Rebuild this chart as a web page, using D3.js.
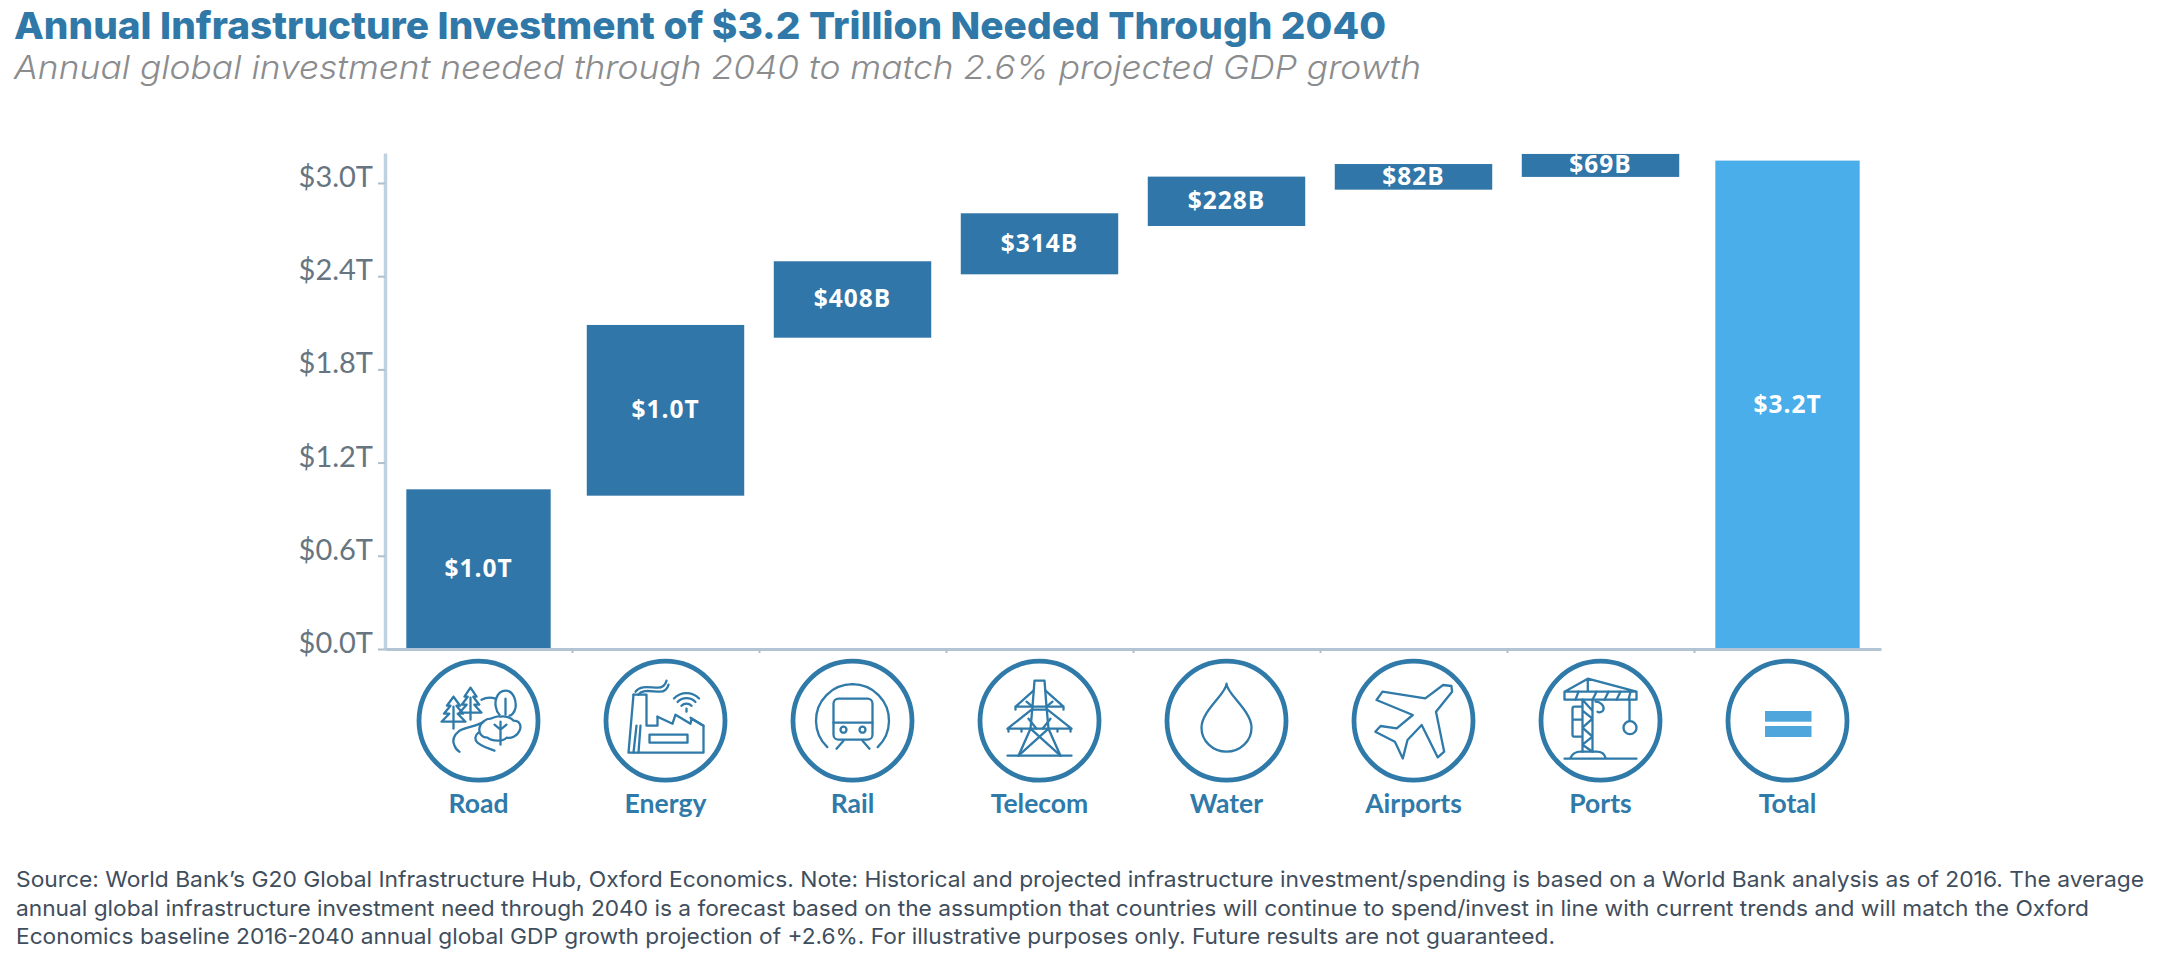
<!DOCTYPE html>
<html><head><meta charset="utf-8">
<script src="https://cdn.jsdelivr.net/npm/d3@7"></script>
<style>
html,body{margin:0;padding:0;background:#fff}
svg{display:block}
.title{font:800 37.5px Inter,sans-serif;fill:#2f78a8}
.subtitle{font:italic 300 33px Inter,sans-serif;fill:#8b8c8e}
.note{font:400 22px Inter,sans-serif;fill:#3f4e5d}
.val{font:700 24.5px "Open Sans",sans-serif;fill:#fff;letter-spacing:1px;text-anchor:middle}
.cat{font:700 26.5px Lato,sans-serif;fill:#2f7aa9;text-anchor:middle}
.yax text{font:400 29px Lato,sans-serif;fill:#66757f}
.yax line,.xax line{stroke:#aebfcd;stroke-width:2}
.yax path{stroke:#bfd2e1;stroke-width:3.5;fill:none}
.xax path{stroke:#b3c5d4;stroke-width:3;fill:none}
.ic{fill:none;stroke:#2f7aa9;stroke-width:2.3;stroke-linecap:round;stroke-linejoin:round}
.ring{fill:none;stroke:#2f7aa9;stroke-width:4.8}
</style></head><body>
<svg id="c" width="2161" height="960" xmlns="http://www.w3.org/2000/svg"></svg>
<script>
// ---- data ----
const categories = ["Road","Energy","Rail","Telecom","Water","Airports","Ports","Total"];
const barStart   = [0, 0.987, 2.004, 2.412, 2.723, 2.957, 3.039, 0];
const barEnd     = [1.028, 2.086, 2.496, 2.805, 3.041, 3.122, 3.187, 3.144];
const valueLabels= ["$1.0T","$1.0T","$408B","$314B","$228B","$82B","$69B","$3.2T"];
const yTicks     = [0, 0.6, 1.2, 1.8, 2.4, 3.0];
const titleText  = "Annual Infrastructure Investment of $3.2 Trillion Needed Through 2040";
const subtitleText = "Annual global investment needed through 2040 to match 2.6% projected GDP growth";
const noteLines  = [
 "Source: World Bank\u2019s G20 Global Infrastructure Hub, Oxford Economics. Note: Historical and projected infrastructure investment/spending is based on a World Bank analysis as of 2016. The average",
 "annual global infrastructure investment need through 2040 is a forecast based on the assumption that countries will continue to spend/invest in line with current trends and will match the Oxford",
 "Economics baseline 2016-2040 annual global GDP growth projection of +2.6%. For illustrative purposes only. Future results are not guaranteed."
];

const svg = d3.select("#c");
const plot = {left:385,right:1881,bottom:649,top:153};

const x = d3.scaleBand().domain(categories).range([plot.left,plot.right]);
const y = d3.scaleLinear().domain([0,3.193]).range([plot.bottom,plot.top]);
const xEdges = d3.scaleLinear().domain([0,categories.length]).range([plot.left,plot.right]);

// headings
svg.append("text").attr("class","title").attr("x",14).attr("y",39).attr("textLength",1372).attr("lengthAdjust","spacingAndGlyphs").text(titleText);
svg.append("text").attr("class","subtitle").attr("x",14).attr("y",79).attr("textLength",1407).attr("lengthAdjust","spacingAndGlyphs").text(subtitleText);
const noteLens=[2128,2073,1539];
svg.selectAll(".note").data(noteLines).join("text").attr("class","note")
  .attr("x",16).attr("y",(d,i)=>887+i*28.6).attr("textLength",(d,i)=>noteLens[i]).attr("lengthAdjust","spacingAndGlyphs").text(d=>d);

// bars
const last = categories.length-1;
const bw = i => x.bandwidth()*((i===0||i===last)?0.772:0.842);
const rows = categories.map((c,i)=>({c,i,a:barStart[i],b:barEnd[i],l:valueLabels[i]}));
svg.selectAll(".bar").data(rows).join("rect").attr("class","bar")
  .attr("x",d=>x(d.c)+x.bandwidth()/2-bw(d.i)/2).attr("width",d=>bw(d.i))
  .attr("y",d=>y(d.b)).attr("height",d=>y(d.a)-y(d.b))
  .attr("fill",d=>d.i===last?"#4aaeea":"#3176a8");
svg.selectAll(".val").data(rows).join("text").attr("class","val")
  .attr("x",d=>x(d.c)+x.bandwidth()/2)
  .attr("y",d=>(y(d.a)+y(d.b))/2+8).text(d=>d.l);

// axes
const yAx = svg.append("g").attr("class","yax").attr("transform",`translate(${plot.left},0)`)
  .call(d3.axisLeft(y).tickValues(yTicks).tickFormat(d=>"$"+d.toFixed(1)+"T").tickSize(7).tickSizeOuter(0).tickPadding(5));
yAx.selectAll("text").attr("dy","0.12em");
const xAx = svg.append("g").attr("class","xax").attr("transform",`translate(0,${plot.bottom})`)
  .call(d3.axisBottom(xEdges).tickValues(d3.range(1,categories.length)).tickFormat("").tickSize(4).tickSizeOuter(0));

// category icons
const cy = 720.7, R = 59.5;
const L = d3.line();
const draw = {
 Road(g){
  const pine=(cx,t,b,w)=>{
    g.append("path").attr("d",L([[cx,t],[cx+w*.55,t+9],[cx+w*.25,t+9],[cx+w*.8,t+17],[cx+w*.35,t+17],[cx+w,t+25],[cx-w,t+25],[cx-w*.35,t+17],[cx-w*.8,t+17],[cx-w*.25,t+9],[cx-w*.55,t+9],[cx,t]]));
    g.append("path").attr("d",L([[cx,t+10],[cx,b]]));
  };
  pine(-25,-24,8,12); pine(-8,-33,-1,11);
  g.append("path").attr("d","M27,-30C35,-30 38,-20 37,-13C36,-8 33,-5 31,-5M21,-6C17,-10 16,-18 18,-23C20,-28 23,-30 27,-30M27,-22V-6");
  g.append("path").attr("d","M22,-4C26,-5 33,-3 35,0C42,0 43,6 41,10C39,15 33,18 28,17C24,21 14,21 9,17C3,17 0,12 1,7C2,2 7,-2 12,-2C15,-3 19,-5 22,-4Z");
  g.append("path").attr("d","M22,1V24M22,9L16,4M22,9L28,4");
  g.append("path").attr("d","M5,1C-2,6 -12,6 -19,10C-24,14 -27,19 -24,25C-23,28 -21,30 -19,31");
  g.append("path").attr("d","M0,12C-4,15 -4,19 -1,22C4,26 10,28 16,30");
  g.append("path").attr("d","M3,-21C7,-23 11,-24 17,-22");
 },
 Energy(g){
  g.append("path").attr("d",L([[-32,-26],[-19,-26],[-19,5],[-8,5],[-8,-4]]));
  g.append("path").attr("d",L([[-32,-26],[-37,32],[38,32],[38,5],[25,-3],[25,-3]]));
  g.append("path").attr("d",L([[-8,-4],[7,3],[10,-6],[25,3],[26,-2],[38,5]]));
  g.append("path").attr("d",L([[-29,5],[-32,32]]));
  g.append("path").attr("d",L([[-25,5],[-27,32]]));
  g.append("rect").attr("x",-16).attr("y",14).attr("width",38).attr("height",8);
  g.append("path").attr("d","M-30,-29C-25,-36 -15,-33 -8,-33C-3,-33 0,-36 1,-40");
  g.append("path").attr("d","M-27,-26C-23,-32 -13,-29 -6,-29C-1,-29 2,-32 3,-36");
  const cxw=21, cyw=-10;
  const arc=d3.arc().startAngle(-0.8).endAngle(0.8);
  [7,12.5,17.5].forEach(r=>g.append("path").attr("transform",`translate(${cxw},${cyw})`).attr("d",arc({innerRadius:r,outerRadius:r})));
  g.append("path").attr("d",`M${cxw},${cyw-2}V${cyw+1}`);
 },
 Rail(g){
  g.append("path").attr("d",d3.arc().startAngle(-2.38).endAngle(2.38)({innerRadius:36.5,outerRadius:36.5}));
  g.append("rect").attr("x",-19).attr("y",-22).attr("width",39).attr("height",41).attr("rx",5);
  g.append("path").attr("d","M-19,2H20");
  g.append("circle").attr("cx",-9).attr("cy",9).attr("r",3);
  g.append("circle").attr("cx",10).attr("cy",9).attr("r",3);
  g.append("path").attr("d","M-9,20L-16,28M10,20L17,28");
 },
 Telecom(g){
  g.append("path").attr("d","M-5,-40H5M-5,-40L-7,-14L-9,8L-21,35M5,-40L7,-14L9,8L21,35");
  g.append("path").attr("d","M-32,35H32");
  g.append("path").attr("d","M-24,-14H24M-24,-14L-6,-30M24,-14L6,-30M-24,-14L-24,-11M24,-14L24,-11");
  g.append("path").attr("d","M-13,-19L-7,-14M13,-19L7,-14");
  g.append("path").attr("d","M-32,8H32M-32,8L-8,-11M32,8L8,-11H-8M-31,8V11M31,8V11M-18,8V11M18,8V11");
  g.append("path").attr("d","M-11,-2L-3,8M11,-2L3,8");
  g.append("path").attr("d","M-9,8L21,35M9,8L-21,35");
 },
 Water(g){
  g.append("path").attr("d","M0,-37C0,-27 -25,-10 -25,7A25,24 0 0 0 25,7C25,-10 0,-27 0,-37Z");
 },
 Airports(g){
  const pts=[[29.6,-35.7],[37.9,-34.7],[38.6,-29],[22.5,-9],[30.7,31],[24.3,36.7],[8.2,4.3],[-6,19.3],[-10.7,37.7],[-18.6,21],[-38.2,11],[-32.9,5.3],[-16.8,7.7],[-.7,-5.7],[-37,-20.7],[-31,-29],[11.8,-22.3]];
  g.append("path").attr("d",L(pts)+"Z");
 },
 Ports(g){
  g.append("path").attr("d","M-36,-29H36V-21H-36ZM-36,-29L-12.7,-42L36,-29M-12.7,-42V-29");
  g.append("path").attr("d","M-25,-21L-22,-29M-8,-21L-4,-29M4,-21L8,-29M16,-21L20,-29M28,-21L30,-29");
  g.append("path").attr("d","M-18,-21V31M-8,-21V31M-18,-10L-8,-2L-18,7L-8,16L-18,24L-8,31M-18,-21L-8,-10");
  g.append("path").attr("d","M-19,-14H-26Q-28,-14 -28,-12V-1H-19M-28,-1V14Q-28,16 -26,16H-19");
  g.append("path").attr("d","M-5,-19C0,-19 4,-15 3,-11C2,-8 -2,-8 -3,-9");
  g.append("path").attr("d","M29,-21V0");
  g.append("circle").attr("cx",29.5).attr("cy",7).attr("r",6.5);
  g.append("path").attr("d","M-36,38H36M-30,37C-28,33 -24,31 -20,31H-4C0,31 4,33 5,37");
 },
 Total(g){
  g.append("rect").attr("x",-22.5).attr("y",-9.7).attr("width",46.5).attr("height",10.7).attr("fill","#4fa6dc").attr("stroke","none");
  g.append("rect").attr("x",-22.5).attr("y",5.3).attr("width",46.5).attr("height",11).attr("fill","#4fa6dc").attr("stroke","none");
 }
};
rows.forEach(d=>{
  const cx = x(d.c)+x.bandwidth()/2;
  svg.append("circle").attr("class","ring").attr("cx",cx).attr("cy",cy).attr("r",R);
  const g = svg.append("g").attr("class","ic").attr("transform",`translate(${cx},${cy})`);
  draw[d.c](g);
});
svg.selectAll(".cat").data(rows).join("text").attr("class","cat")
  .attr("x",d=>x(d.c)+x.bandwidth()/2).attr("y",812.5).text(d=>d.c);
</script></body></html>
